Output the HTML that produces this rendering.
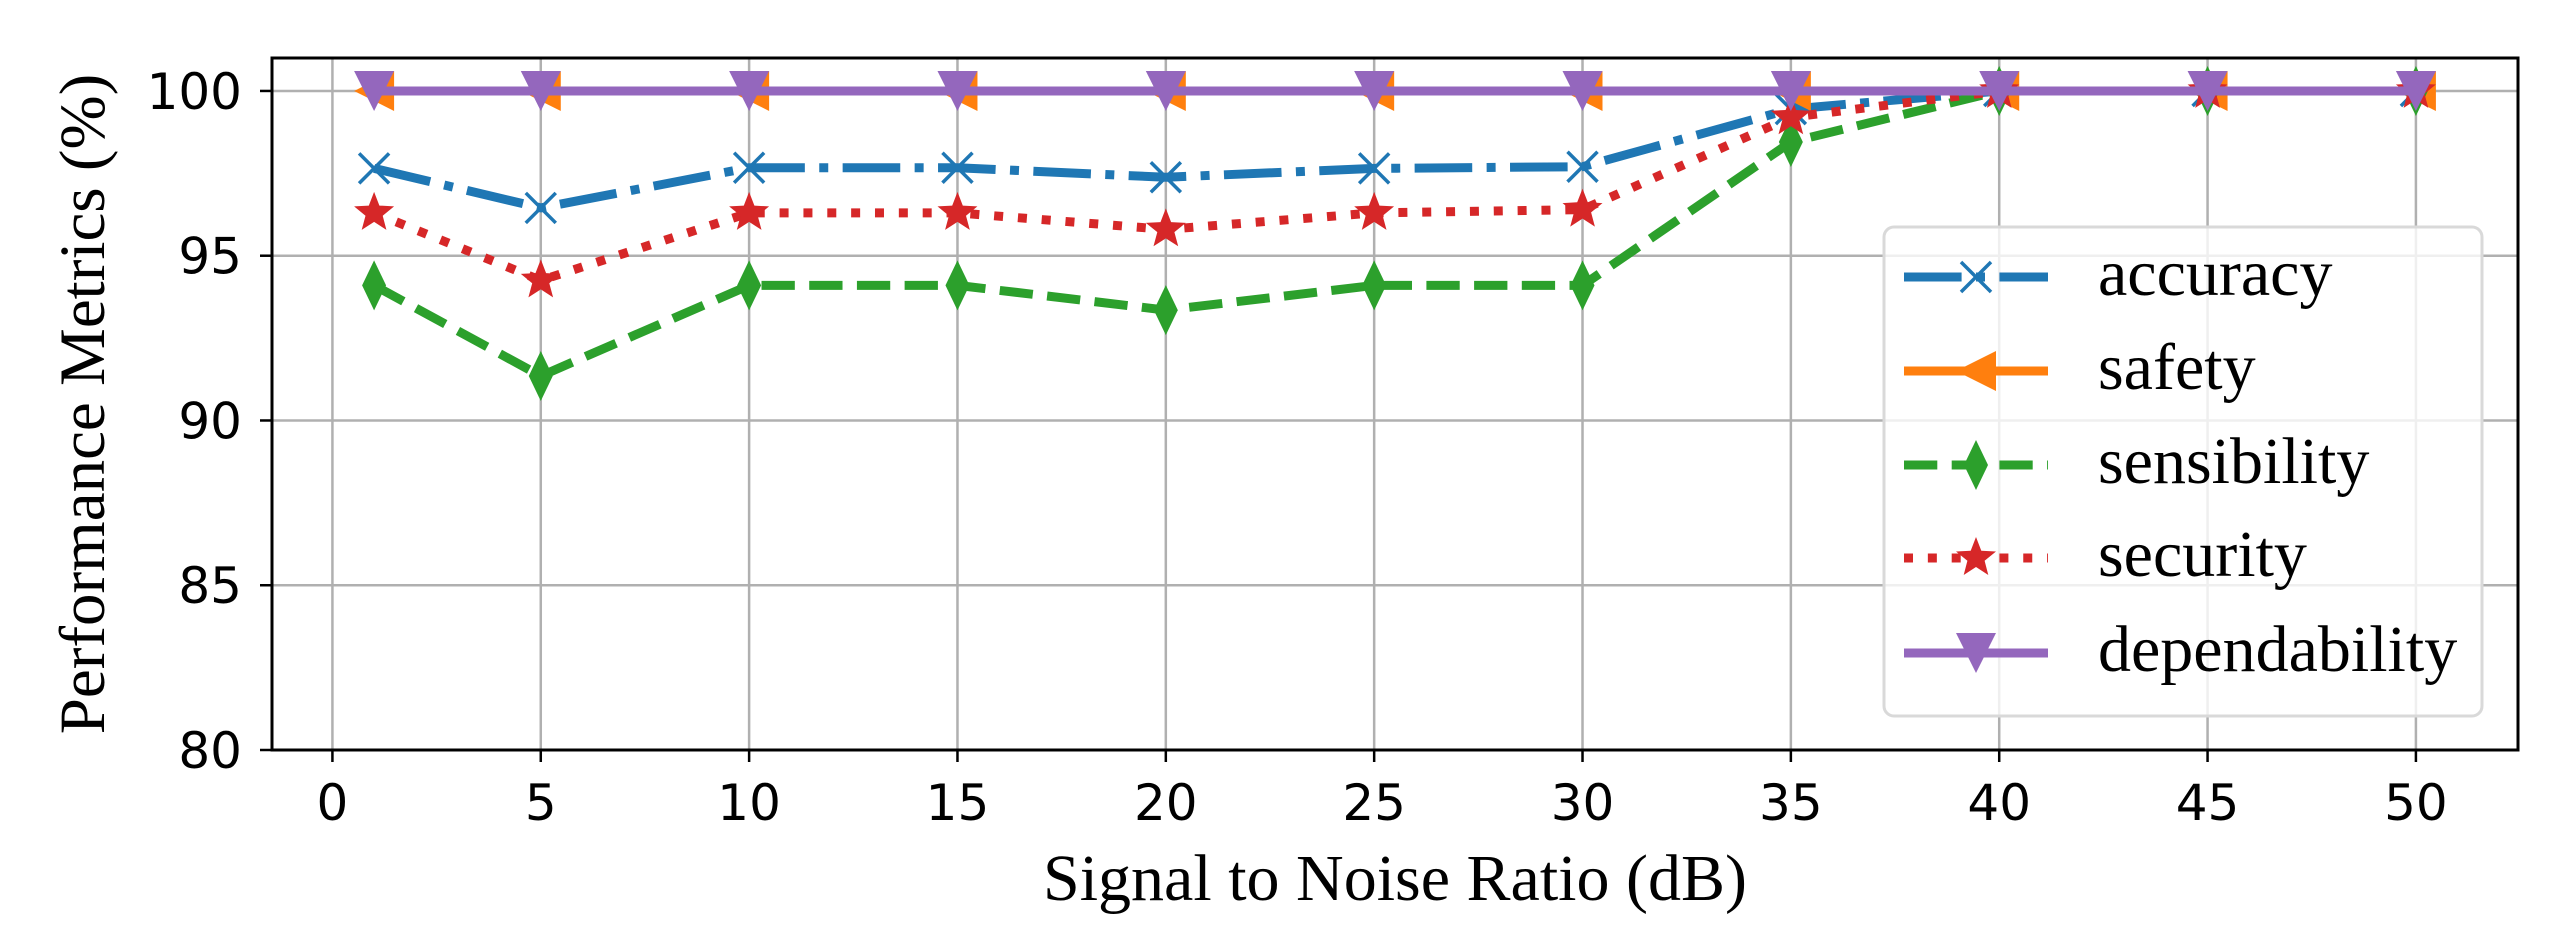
<!DOCTYPE html>
<html><head><meta charset="utf-8"><style>
html,body{margin:0;padding:0;background:#fff;}
svg{display:block;}
</style></head><body>
<svg id="chart" width="2555" height="935" viewBox="0 0 2555 935" xmlns="http://www.w3.org/2000/svg"></svg>
<script>
const categories = [1, 5, 10, 15, 20, 25, 30, 35, 40, 45, 50];
const accuracy = [97.65, 96.45, 97.67, 97.67, 97.38, 97.65, 97.7, 99.45, 100, 100, 100];
const safety = [100, 100, 100, 100, 100, 100, 100, 100, 100, 100, 100];
const sensibility = [94.1, 91.35, 94.1, 94.1, 93.35, 94.1, 94.1, 98.45, 100, 100, 100];
const security = [96.3, 94.25, 96.3, 96.3, 95.8, 96.3, 96.4, 99.2, 100, 100, 100];
const dependability = [100, 100, 100, 100, 100, 100, 100, 100, 100, 100, 100];
const xTicks = [0, 5, 10, 15, 20, 25, 30, 35, 40, 45, 50];
const yTicks = [80, 85, 90, 95, 100];
const seriesNames = ["accuracy", "safety", "sensibility", "security", "dependability"];

const NS = "http://www.w3.org/2000/svg";
const svg = document.getElementById("chart");
const L = 272, R = 2518, T = 58, B = 750;
const xMin = -1.45, xMax = 52.45, yMin = 80, yMax = 101;
const xs = v => L + (v - xMin) / (xMax - xMin) * (R - L);
const ys = v => B - (v - yMin) / (yMax - yMin) * (B - T);

function mk(tag, attrs, parent) {
  const e = document.createElementNS(NS, tag);
  for (const k in attrs) e.setAttribute(k, attrs[k]);
  (parent || svg).appendChild(e);
  return e;
}
const LW = 9;
const styles = [
  {color:"#1f77b4", dash:(6.4*LW)+","+(1.6*LW)+","+(1*LW)+","+(1.6*LW), marker:"x"},
  {color:"#ff7f0e", dash:"", marker:"<"},
  {color:"#2ca02c", dash:(3.7*LW)+","+(1.6*LW), marker:"d"},
  {color:"#d62728", dash:(1*LW)+","+(1.65*LW), marker:"*"},
  {color:"#9467bd", dash:"", marker:"v"}
];
const data = [accuracy, safety, sensibility, security, dependability];

const grid = mk("g", {});


xTicks.forEach(t => { mk("line", {x1:xs(t), x2:xs(t), y1:T, y2:B, stroke:"#b0b0b0", "stroke-width":2.5}, grid); });
yTicks.forEach(t => { mk("line", {x1:L, x2:R, y1:ys(t), y2:ys(t), stroke:"#b0b0b0", "stroke-width":2.5}, grid); });

function marker(type, cx, cy, color, parent) {
  const s = 20;
  let e;
  if (type === "x") {
    e = mk("path", {d:`M${cx-s*0.75},${cy-s*0.75}L${cx+s*0.75},${cy+s*0.75}M${cx-s*0.75},${cy+s*0.75}L${cx+s*0.75},${cy-s*0.75}`, stroke:color, "stroke-width":3.5, fill:"none"}, parent);
  } else if (type === "<") {
    e = mk("polygon", {points:`${cx-s},${cy} ${cx+s},${cy-s} ${cx+s},${cy+s}`, fill:color}, parent);
  } else if (type === "v") {
    e = mk("polygon", {points:`${cx-s},${cy-s} ${cx+s},${cy-s} ${cx},${cy+s}`, fill:color}, parent);
  } else if (type === "d") {
    e = mk("polygon", {points:`${cx},${cy-s*1.25} ${cx+s*0.6},${cy} ${cx},${cy+s*1.25} ${cx-s*0.6},${cy}`, fill:color}, parent);
  } else {
    let p = [];
    for (let i = 0; i < 10; i++) {
      const r = i % 2 ? s*0.45 : s*1.05;
      const a = -Math.PI/2 + i*Math.PI/5;
      p.push((cx + r*Math.cos(a)).toFixed(1) + "," + (cy + r*Math.sin(a)).toFixed(1));
    }
    e = mk("polygon", {points:p.join(" "), fill:color}, parent);
  }
  return e;
}

data.forEach((vals, si) => {
  const st = styles[si];
  const g = mk("g", {});
  
  
  const pts = vals.map((v, i) => xs(categories[i]).toFixed(1) + "," + ys(v).toFixed(1)).join(" ");
  const pl = mk("polyline", {points:pts, fill:"none", stroke:st.color, "stroke-width":LW, "stroke-linejoin":"round"}, g);
  if (st.dash) pl.setAttribute("stroke-dasharray", st.dash);
  
  
  vals.forEach((v, i) => {
    const m = marker(st.marker, xs(categories[i]), ys(v), st.color, g);
    
    
  });
});

const frame = mk("rect", {x:L, y:T, width:R-L, height:B-T, fill:"none", stroke:"#000", "stroke-width":3});



xTicks.forEach(t => {
  mk("line", {x1:xs(t), x2:xs(t), y1:B, y2:B+12, stroke:"#000", "stroke-width":2.5});
  const tx = mk("text", {x:xs(t), y:B+70, "text-anchor":"middle", "font-family":"DejaVu Sans, sans-serif", "font-size":50});
  tx.textContent = t;
  
  
});
yTicks.forEach(t => {
  mk("line", {x1:L-12, x2:L, y1:ys(t), y2:ys(t), stroke:"#000", "stroke-width":2.5});
  const tx = mk("text", {x:L-30, y:ys(t)+18, "text-anchor":"end", "font-family":"DejaVu Sans, sans-serif", "font-size":50});
  tx.textContent = t;
  
  
});

const xl = mk("text", {x:(L+R)/2, y:900, "text-anchor":"middle", "font-family":"Liberation Serif, serif", "font-size":66});
xl.textContent = "Signal to Noise Ratio (dB)";


const yl = mk("text", {x:0, y:0, "text-anchor":"middle", "font-family":"Liberation Serif, serif", "font-size":65, transform:`translate(${104},${(T+B)/2}) rotate(-90)`});
yl.textContent = "Performance Metrics (%)";



const lg = mk("g", {});


mk("rect", {x:1884, y:227, width:598, height:489, rx:10, fill:"#fff", "fill-opacity":0.8, stroke:"#d9d9d9", "stroke-width":3}, lg);
const ly = [277, 371, 465, 558, 653];
seriesNames.forEach((n, i) => {
  const st = styles[i];
  const e = mk("g", {}, lg);
  
  
  const ln = mk("line", {x1:1904, x2:2048, y1:ly[i], y2:ly[i], stroke:st.color, "stroke-width":LW}, e);
  if (st.dash) ln.setAttribute("stroke-dasharray", st.dash);
  marker(st.marker, 1976, ly[i], st.color, e);
  const tx = mk("text", {x:2098, y:ly[i]+18, "font-family":"Liberation Serif, serif", "font-size":66}, e);
  tx.textContent = n;
});
</script>
</body></html>
